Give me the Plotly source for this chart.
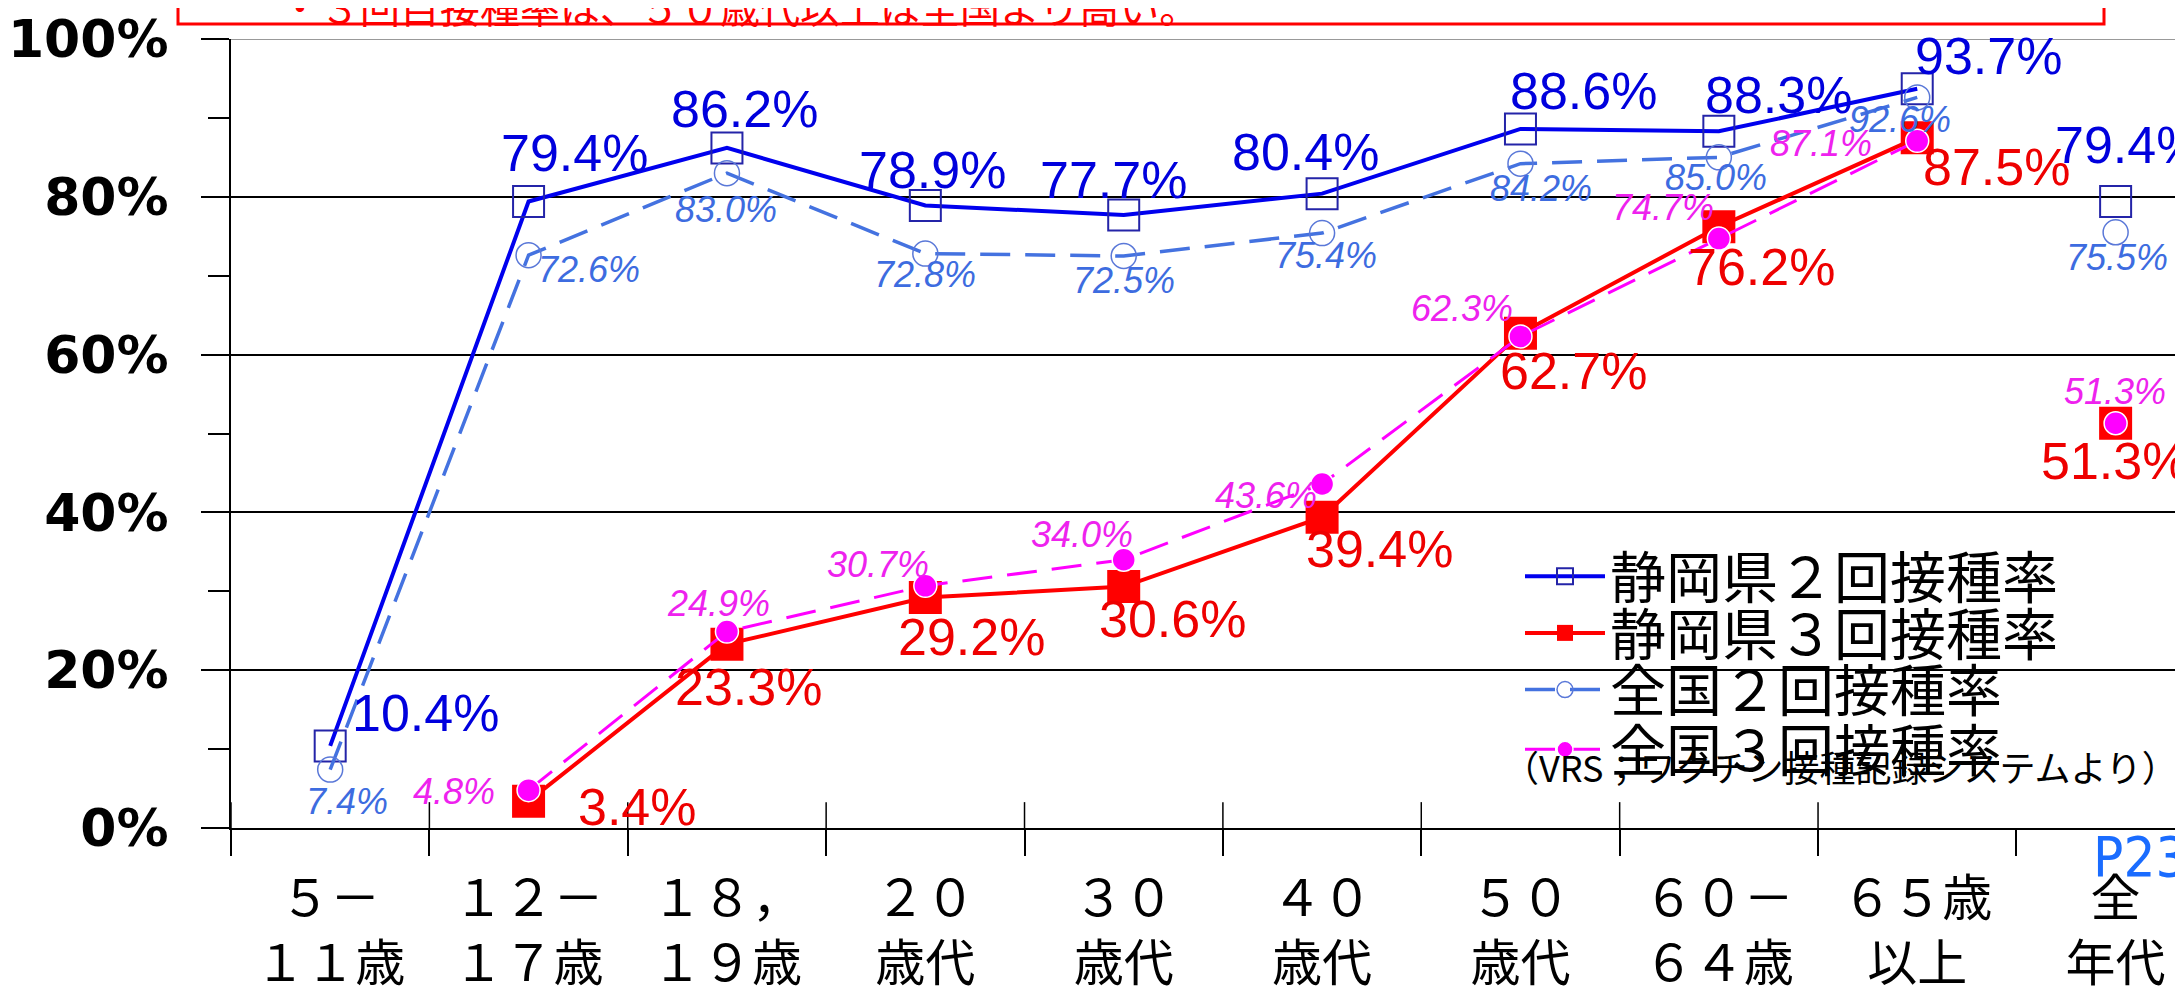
import plotly.graph_objects as go

# ---------------- data ----------------
categories = ["５－<br>１１歳", "１２－<br>１７歳", "１８，<br>１９歳", "２０<br>歳代", "３０<br>歳代",
              "４０<br>歳代", "５０<br>歳代", "６０－<br>６４歳", "６５歳<br>以上", "全<br>年代"]
shizuoka_2 = [10.4, 79.4, 86.2, 78.9, 77.7, 80.4, 88.6, 88.3, 93.7, 79.4]
shizuoka_3 = [None, 3.4, 23.3, 29.2, 30.6, 39.4, 62.7, 76.2, 87.5, 51.3]
national_2 = [7.4, 72.6, 83.0, 72.8, 72.5, 75.4, 84.2, 85.0, 92.6, 75.5]
national_3 = [None, 4.8, 24.9, 30.7, 34.0, 43.6, 62.3, 74.7, 87.1, 51.3]
names = ["静岡県２回接種率", "静岡県３回接種率", "全国２回接種率", "全国３回接種率"]
y_ticks = [0, 20, 40, 60, 80, 100]
y_tick_text = ["0%", "20%", "40%", "60%", "80%", "100%"]
headline = "・３回目接種率は、５０歳代以上は全国より高い。"
source_note = "（VRS；ワクチン接種記録システムより）"
page_no = "P23"

# label offsets in px (dx right, dy down) - styling
off_s2 = [(95, -33), (46, -49), (18, -39), (7, -35), (-10, -35), (-17, -42), (63, -38), (60, -36), (71, -33), (13, -57)]
off_s3 = [None, (109, 6), (22, 43), (46, 39), (49, 32), (57, 32), (53, 38), (43, 40), (79, 29), (-1, 38)]
off_n2 = [(17, 32), (60, 14), (-1, 36), (0, 21), (0, 25), (4, 22), (21, 25), (-3, 20), (-17, 22), (1, 25)]
off_n3 = [None, (-75, 1), (-8, -28), (-47, -21), (-42, -25), (-56, 11), (-58, -28), (-56, -31), (-96, 3), (-1, -32)]

JP = "Noto Sans CJK JP"
LAT = "Liberation Sans, Arial, sans-serif"

styles = [
    dict(line=dict(color="#0000ee", width=4),
         marker=dict(symbol="square-open", size=31, color="#2424a8", line=dict(width=2, color="#2424a8")),
         lab_color="#0000dd", lab_size=52, italic=False),
    dict(line=dict(color="#ff0000", width=4),
         marker=dict(symbol="square", size=33, color="#ff0000", line=dict(width=0)),
         lab_color="#ee0000", lab_size=52, italic=False),
    dict(line=dict(color="#4472e0", width=3.5, dash="30px,15px"),
         marker=dict(symbol="circle-open", size=25, color="#5a78d8", line=dict(width=1.5, color="#5a78d8")),
         lab_color="#3d6ce0", lab_size=36, italic=True),
    dict(line=dict(color="#ff00ff", width=3, dash="30px,15px"),
         marker=dict(symbol="circle", size=23, color="#ff00ff", line=dict(width=1.5, color="#ffffff")),
         lab_color="#ee22ee", lab_size=36, italic=True),
]
series = [shizuoka_2, shizuoka_3, national_2, national_3]
offsets = [off_s2, off_s3, off_n2, off_n3]
legend_ids = ["legend", "legend2", "legend3", "legend4"]

fig = go.Figure()
n_line = len(categories) - 1  # last category (全年代) is not connected

for name, vals, st, lg in zip(names, series, styles, legend_ids):
    fig.add_trace(go.Scatter(
        x=categories[:n_line], y=vals[:n_line], mode="lines+markers", name=name, legend=lg,
        line=st["line"], marker=st["marker"], cliponaxis=False, hoverinfo="skip"))
for name, vals, st in zip(names, series, styles):
    fig.add_trace(go.Scatter(
        x=categories[n_line:], y=vals[n_line:], mode="markers", name=name, showlegend=False,
        marker=st["marker"], cliponaxis=False, hoverinfo="skip"))

annotations = []
for vals, st, offs in zip(series, styles, offsets):
    for c, v, o in zip(categories, vals, offs):
        if v is None or o is None:
            continue
        annotations.append(dict(
            x=c, y=v, xref="x", yref="y", text=f"{v:.1f}%", showarrow=False,
            xshift=o[0], yshift=-o[1],
            font=dict(family=LAT, size=st["lab_size"], color=st["lab_color"],
                      style="italic" if st["italic"] else "normal")))

# plot geometry helpers
L, R, T, B = 223, 0, 31, 163
W, H = 2183, 987
pw, ph = W - L - R, H - T - B
def px_x(px):
    return (px - L) / pw
def px_y(py):
    return (H - B - py) / ph

annotations += [
    dict(x=px_x(1493), y=px_y(762), xref="paper", yref="paper", xanchor="left", yanchor="middle",
         text=source_note, showarrow=False, font=dict(family=JP, size=36, color="#000000")),
    dict(x=px_x(2181), y=px_y(853), xref="paper", yref="paper", xanchor="right", yanchor="middle",
         text=page_no, showarrow=False,
         font=dict(family="Liberation Sans Narrow, DejaVu Sans Condensed, Liberation Sans",
                   size=56, color="#1a6cff")),
    dict(x=px_x(270), y=px_y(29), xref="paper", yref="paper", xanchor="left", yanchor="bottom",
         text=headline, showarrow=False, font=dict(family=JP, size=40, color="#ff0000")),
]

shapes = [
    # headline box (top cut off)
    dict(type="rect", xref="paper", yref="paper", x0=px_x(170), x1=px_x(2096), y0=px_y(16), y1=px_y(-40),
         line=dict(color="#ff0000", width=3), fillcolor="rgba(0,0,0,0)", layer="above"),
    # grey 100% line
    dict(type="line", xref="paper", yref="y", x0=0, x1=1, y0=y_ticks[-1], y1=y_ticks[-1],
         line=dict(color="#999999", width=2), layer="above"),
]
# inner half of the crossing x ticks at category boundaries
for i in range(len(categories) - 1):
    shapes.append(dict(type="line", xref="x", yref="paper", x0=i - 0.5, x1=i - 0.5,
                       y0=0, y1=26 / ph, line=dict(color="#000000", width=1.5), layer="above"))

legend_rows = [571, 628, 685, 745]
legend_common = dict(xanchor="left", yanchor="middle", bgcolor="rgba(0,0,0,0)", itemwidth=80,
                     font=dict(family=JP, size=56, color="#000000"))
layout_legends = {}
for lg, row in zip(legend_ids, legend_rows):
    layout_legends[lg] = dict(x=px_x(1512), y=px_y(row), **legend_common)

fig.update_layout(
    width=W, height=H,
    margin=dict(l=L, r=R, t=T, b=B),
    paper_bgcolor="#ffffff", plot_bgcolor="#ffffff",
    showlegend=True,
    annotations=annotations, shapes=shapes,
    **layout_legends,
)
fig.update_xaxes(
    type="category", categoryorder="array", categoryarray=categories,
    range=[-0.5, 9.38], tickson="boundaries", ticks="outside", ticklen=26, tickwidth=1.5,
    tickcolor="#000000", showline=True, linecolor="#000000", linewidth=2, showgrid=False,
    tickfont=dict(family=JP, size=50, color="#000000"), ticklabelstandoff=26, zeroline=False,
)
fig.update_yaxes(
    range=[0, 100], tickvals=y_ticks, ticktext=y_tick_text, ticks="outside", ticklen=28,
    tickwidth=1.5, tickcolor="#000000", showline=True, linecolor="#000000", linewidth=2,
    showgrid=True, gridcolor="#000000", gridwidth=1.5, zeroline=False,
    minor=dict(dtick=10, ticks="outside", ticklen=21, tickwidth=1.5, tickcolor="#000000", showgrid=False),
    tickfont=dict(family="DejaVu Sans", size=52, color="#000000", weight="bold"),
    ticklabelstandoff=22,
)

fig.write_html("out.html")
